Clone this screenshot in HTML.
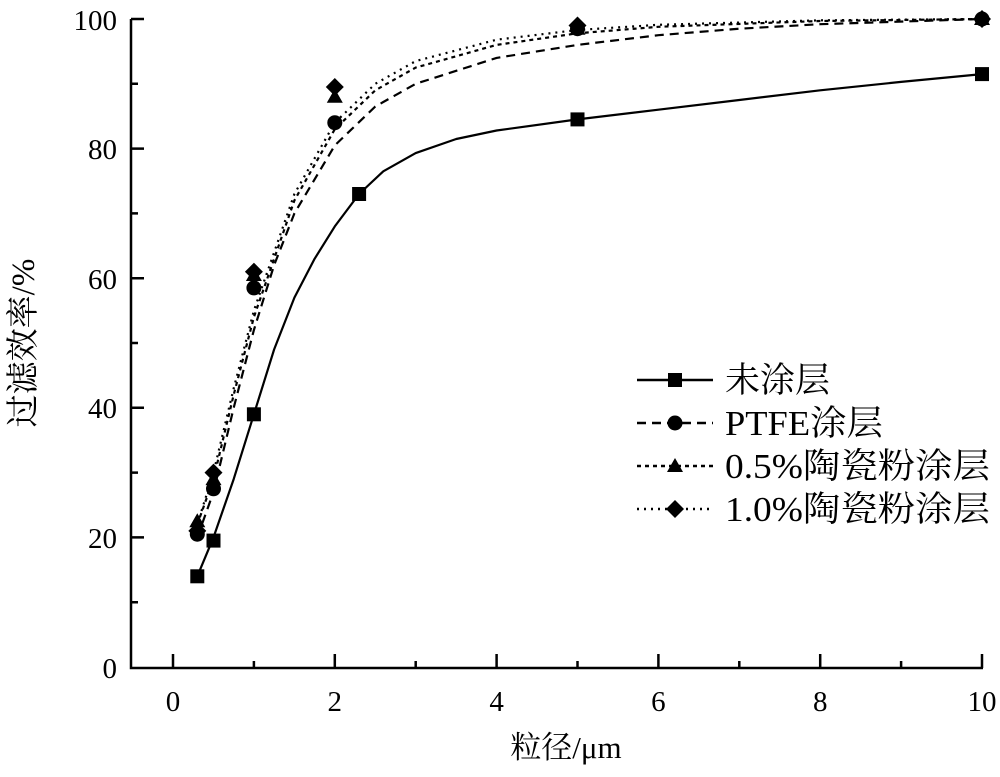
<!DOCTYPE html>
<html><head><meta charset="utf-8"><style>
html,body{margin:0;padding:0;background:#fff;}
svg text{font-family:"Liberation Serif","Noto Serif CJK SC","Noto Sans CJK SC",serif;fill:#000;}
</style></head><body>
<svg width="1000" height="772" viewBox="0 0 1000 772" xmlns="http://www.w3.org/2000/svg">
<g stroke="#000" stroke-width="2.5" fill="none">
<polyline points="131,19 131,668 983,668"/>
<path d="M131,19h13M131,148.6h13M131,278.2h13M131,407.8h13M131,537.4h13M131,83.8h7M131,213.4h7M131,343h7M131,472.6h7M131,602.2h7"/>
<path d="M173,668v-14M334.8,668v-14M496.6,668v-14M658.4,668v-14M820.2,668v-14M982,668v-14M253.9,668v-7M415.7,668v-7M577.5,668v-7M739.3,668v-7M901.1,668v-7"/>
</g>
<g font-size="29">
<text x="117" y="678" text-anchor="end">0</text>
<text x="117" y="548" text-anchor="end">20</text>
<text x="117" y="418" text-anchor="end">40</text>
<text x="117" y="289" text-anchor="end">60</text>
<text x="117" y="159" text-anchor="end">80</text>
<text x="117" y="30" text-anchor="end">100</text>
<text x="173" y="711" text-anchor="middle">0</text>
<text x="334.8" y="711" text-anchor="middle">2</text>
<text x="496.6" y="711" text-anchor="middle">4</text>
<text x="658.4" y="711" text-anchor="middle">6</text>
<text x="820.2" y="711" text-anchor="middle">8</text>
<text x="982" y="711" text-anchor="middle">10</text>
</g>
<text x="566" y="758" font-size="31" text-anchor="middle">粒径/μm</text>
<text transform="translate(34,343) rotate(-90)" font-size="33" text-anchor="middle">过滤效率/%</text>
<g fill="none" stroke="#000" stroke-width="2.2" stroke-linejoin="round">
<polyline points="197.3,576.3 213.5,537.4 233.7,479.1 253.9,414.3 274.1,349.5 294.4,297.6 314.6,258.8 334.8,226.4 359.1,194 383.3,171.3 415.7,153.1 456.2,139 496.6,130.5 577.5,119.4 658.4,109.7 739.3,100 820.2,90.3 901.1,81.9 982,74.1"/>
<polyline stroke-dasharray="9,6" points="197.3,537.4 213.5,492 233.7,407.8 253.9,330 274.1,265.2 294.4,213.4 334.8,145.4 375.3,106.5 415.7,83.8 496.6,57.9 577.5,44.9 658.4,35.2 739.3,28.7 820.2,24.2 982,19"/>
<polyline stroke-dasharray="4,4" points="197.3,524.4 213.5,479.1 233.7,394.8 253.9,317.1 294.4,200.4 334.8,129.2 375.3,90.3 415.7,67.6 496.6,44.9 577.5,33.3 658.4,26.8 820.2,21 982,19"/>
<polyline stroke-dasharray="2,5" points="197.3,524.4 213.5,472.6 233.7,388.4 253.9,310.6 294.4,194 334.8,122.7 375.3,83.8 415.7,61.1 496.6,39.7 577.5,30 658.4,24.8 820.2,20.3 982,19"/>
</g>
<g fill="#000">
<rect x="190.3" y="569.3" width="14" height="14"/><rect x="206.5" y="533.6" width="14" height="14"/><rect x="246.9" y="407.3" width="14" height="14"/><rect x="352.1" y="187" width="14" height="14"/><rect x="570.5" y="112.4" width="14" height="14"/><rect x="975" y="67.1" width="14" height="14"/>
<circle cx="197.3" cy="534.2" r="7.5"/><circle cx="213.5" cy="488.8" r="7.5"/><circle cx="253.9" cy="287.9" r="7.5"/><circle cx="334.8" cy="122.7" r="7.5"/><circle cx="577.5" cy="28.7" r="7.5"/><circle cx="982" cy="19" r="7.5"/>
<path d="M197.3,513.2l8,14h-16zM213.5,471.1l8,14h-16zM253.9,267l8,14h-16zM334.8,88.8l8,14h-16zM577.5,20.7l8,14h-16zM982,11l8,14h-16z"/>
<path d="M197.3,521.9l9,9-9,9-9-9zM213.5,463.6l9,9-9,9-9-9zM253.9,262.7l9,9-9,9-9-9zM334.8,78l9,9-9,9-9-9zM577.5,16.5l9,9-9,9-9-9zM982,10l9,9-9,9-9-9z"/>
</g>
<g stroke="#000" stroke-width="2.5" fill="none">
<line x1="637" y1="380" x2="713" y2="380"/>
<line x1="637" y1="423" x2="713" y2="423" stroke-dasharray="9,6"/>
<line x1="637" y1="466" x2="713" y2="466" stroke-dasharray="4,4"/>
<line x1="637" y1="509" x2="713" y2="509" stroke-dasharray="2,5"/>
</g>
<g fill="#000">
<rect x="668" y="373" width="14" height="14"/>
<circle cx="675" cy="423" r="7.5"/>
<path d="M675,458l8,14h-16z"/>
<path d="M675,500l9,9-9,9-9-9z"/>
</g>
<g font-size="35">
<text x="725" y="392">未涂层</text>
<text x="725" y="435" textLength="158" lengthAdjust="spacingAndGlyphs">PTFE涂层</text>
<text x="725" y="478" textLength="265" lengthAdjust="spacingAndGlyphs">0.5%陶瓷粉涂层</text>
<text x="725" y="521" textLength="265" lengthAdjust="spacingAndGlyphs">1.0%陶瓷粉涂层</text>
</g>
</svg>
</body></html>
